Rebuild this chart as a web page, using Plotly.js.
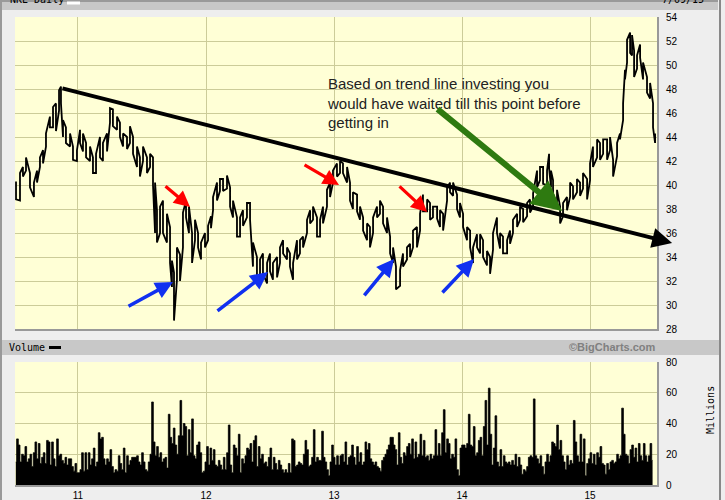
<!DOCTYPE html>
<html>
<head>
<meta charset="utf-8">
<script src="https://cdn.plot.ly/plotly-3.0.1.min.js"></script>
<style>html,body{margin:0;padding:0;background:#EEEEEE;}#chart{width:725px;height:500px;}</style>
</head>
<body>
<div id="chart"></div>
<script>
// ---- Data (time in decimal years) ----
const priceYears = [
2010.516,2010.547,2010.570,2010.594,2010.625,2010.656,2010.680,2010.703,2010.727,2010.750,
2010.781,2010.805,2010.828,2010.852,2010.867,2010.883,2010.906,2010.938,2010.961,2010.992,
2011.016,2011.039,2011.063,2011.094,2011.117,2011.141,2011.172,2011.195,2011.227,2011.250,
2011.273,2011.305,2011.328,2011.352,2011.383,2011.406,2011.430,2011.461,2011.484,2011.508,
2011.539,2011.563,2011.586,2011.602,2011.617,2011.641,2011.664,2011.695,2011.719,2011.734,
2011.750,2011.773,2011.797,2011.820,2011.844,2011.867,2011.891,2011.914,2011.938,2011.961,
2011.992,2012.016,2012.039,2012.055,2012.086,2012.109,2012.133,2012.164,2012.188,2012.211,
2012.242,2012.266,2012.289,2012.320,2012.344,2012.367,2012.398,2012.422,2012.445,2012.477,
2012.500,2012.523,2012.555,2012.578,2012.602,2012.633,2012.656,2012.680,2012.711,2012.734,
2012.758,2012.789,2012.813,2012.836,2012.867,2012.891,2012.914,2012.945,2012.969,2012.992,
2013.023,2013.047,2013.070,2013.102,2013.125,2013.148,2013.180,2013.203,2013.227,2013.258,
2013.281,2013.305,2013.336,2013.359,2013.383,2013.414,2013.438,2013.461,2013.484,2013.516,
2013.539,2013.570,2013.594,2013.617,2013.648,2013.672,2013.695,2013.727,2013.750,2013.773,
2013.805,2013.828,2013.852,2013.883,2013.906,2013.930,2013.961,2013.984,2014.008,2014.039,
2014.063,2014.086,2014.117,2014.141,2014.164,2014.195,2014.219,2014.242,2014.273,2014.297,
2014.320,2014.352,2014.375,2014.398,2014.430,2014.453,2014.477,2014.508,2014.531,2014.555,
2014.586,2014.609,2014.633,2014.664,2014.680,2014.695,2014.711,2014.742,2014.766,2014.789,
2014.820,2014.844,2014.867,2014.898,2014.922,2014.945,2014.977,2015.000,2015.023,2015.055,
2015.078,2015.102,2015.133,2015.156,2015.180,2015.211,2015.234,2015.258,2015.273,2015.289,
2015.313,2015.328,2015.344,2015.367,2015.391,2015.414,2015.445,2015.469,2015.492,2015.508];

const priceHigh = [
40.3,41.0,41.5,42.3,41.0,40.2,41.2,42.3,42.9,44.3,
45.7,46.5,46.8,47.9,48.2,45.4,44.8,44.3,43.2,42.9,
44.6,44.3,43.5,43.2,42.3,42.6,44.0,43.5,44.3,46.4,
46.3,45.7,45.2,44.3,44.0,44.9,44.0,43.2,42.3,43.2,
42.3,42.6,42.3,40.2,37.9,38.2,38.7,37.6,36.5,33.7,
32.7,34.8,34.2,37.7,38.7,38.2,36.0,37.1,36.0,35.2,
36.0,36.6,37.4,39.0,40.2,40.5,40.5,40.8,39.8,38.7,
37.3,37.3,37.9,38.5,38.5,35.2,34.0,33.8,34.3,33.5,
34.3,33.5,34.0,34.8,35.4,34.8,34.3,33.5,35.4,35.4,
35.7,37.1,37.9,38.2,37.3,37.1,38.2,39.6,40.2,41.2,
41.8,42.0,41.8,41.5,40.2,39.4,39.2,38.2,37.3,36.8,
36.5,37.3,38.2,38.7,38.2,37.3,35.7,34.8,33.2,32.9,
34.3,34.8,35.1,36.2,36.5,37.6,39.2,38.8,38.5,38.2,
38.2,37.9,37.6,39.8,40.2,40.2,39.2,38.5,37.6,36.5,
36.2,34.8,35.9,35.9,35.4,34.5,34.0,36.0,37.3,36.0,
35.7,35.4,36.2,37.1,37.6,38.2,38.0,38.5,38.8,39.3,
41.2,41.5,41.5,41.2,42.6,41.2,40.4,39.6,38.2,38.5,
39.0,40.2,39.9,40.5,40.2,41.0,40.5,41.8,43.2,43.8,
43.5,43.8,43.8,44.0,42.1,43.5,44.3,46.8,49.6,52.1,
52.7,52.5,51.2,50.8,51.7,50.2,49.0,48.5,46.8,44.3];

const priceLow = [
38.8,38.7,40.7,41.2,39.8,39.0,40.2,41.5,41.8,43.2,
44.8,44.8,44.5,46.2,46.8,44.0,43.5,43.2,42.1,42.0,
43.5,42.8,42.3,42.0,41.0,41.0,42.3,42.0,42.8,45.2,
44.9,44.6,44.0,43.2,43.0,43.5,42.6,41.5,40.7,42.0,
41.0,41.5,40.0,36.0,35.2,36.0,36.0,35.2,33.5,31.5,
28.7,32.1,32.0,34.8,37.3,36.0,33.5,35.4,34.8,33.8,
34.8,35.4,36.4,37.9,38.7,39.5,39.5,39.7,38.2,37.3,
35.7,35.7,36.6,37.3,37.1,33.2,32.1,32.6,32.6,31.8,
32.8,32.1,32.3,33.5,34.3,33.8,33.2,32.1,33.8,34.3,
34.8,36.0,36.8,37.1,35.7,35.7,36.8,38.2,39.0,40.2,
40.7,41.0,41.0,40.2,38.7,38.0,37.8,37.1,36.2,35.4,
34.8,36.0,37.3,37.6,36.8,36.0,34.3,33.5,31.3,31.6,
33.2,33.8,34.0,34.8,34.8,36.2,37.8,37.8,37.1,37.3,
37.2,36.5,36.2,38.7,39.4,39.1,38.0,37.3,36.5,35.4,
34.8,33.5,34.8,34.3,34.0,33.3,32.6,34.6,36.0,34.7,
34.3,34.3,35.1,36.0,36.5,37.1,36.9,37.4,37.7,38.2,
39.8,40.4,40.1,40.0,41.4,39.8,39.3,38.2,36.8,37.4,
37.9,39.0,38.8,39.4,39.1,39.7,38.8,40.4,41.5,42.3,
42.1,42.6,42.1,42.9,40.7,42.4,43.8,45.4,48.8,50.2,
51.0,50.8,49.0,49.7,50.6,48.8,47.7,47.2,44.8,43.5];

// Volume (millions), one value per sampling step starting at VOL_START
const VOL_START = 2010.5143;
const VOL_STEP = 0.013021;
const volume = [
15,30,26,15,20,19,25,15,17,20, 12,21,28,17,27,14,18,21,14,29,
28,13,28,17,12,30,19,20,16,14, 18,13,17,17,12,9,14,8,8,10,
21,9,21,10,21,13,17,24,12,15, 34,30,31,17,13,17,15,23,12,8,
10,9,19,14,10,24,8,19,13,16, 18,18,18,19,15,13,21,15,10,9,
15,20,54,28,19,25,18,21,15,17, 18,11,46,31,27,37,26,20,32,55,
32,40,38,19,36,21,43,19,17,26, 28,21,8,9,15,25,13,24,16,23,
13,12,16,13,10,18,10,21,39,13, 8,26,24,19,33,8,17,14,19,24,
23,27,15,29,32,12,25,17,20,14, 15,12,18,24,10,18,14,10,16,13,
10,8,10,8,14,8,30,29,12,13, 15,14,13,20,29,23,12,13,18,36,
15,18,16,16,35,18,15,10,6,15, 26,18,13,19,13,19,20,15,28,13,
18,19,26,18,13,25,15,21,13,15, 28,23,27,17,15,13,15,12,11,9,
16,18,20,23,26,31,31,26,23,13, 34,18,14,21,19,25,27,20,30,17,
28,18,20,33,19,29,18,19,16,20, 17,19,36,19,27,19,34,49,21,30,
27,17,20,18,30,10,6,24,26,26, 24,27,46,26,25,38,19,21,29,31,
19,
38,55,26,63,33,13,24,45,15,12, 23,12,19,15,14,15,13,16,13,20,
12,18,13,7,10,9,12,18,19,18, 56,19,17,14,19,12,7,15,20,15,
19,28,27,25,39,23,29,19,15,10, 19,13,16,14,42,28,19,15,33,15,
30,6,14,17,21,14,20,13,21,18, 25,14,13,7,14,10,15,16,14,15,
20,17,19,50,33,20,19,14,23,26, 18,24,15,27,19,16,27,19,15,19,
27,16];

const yearTicks = [2011, 2012, 2013, 2014, 2015];
const yearLabels = ['11', '12', '13', '14', '15'];
const priceTicks = [28,30,32,34,36,38,40,42,44,46,48,50,52,54];
const volumeTicks = [0,20,40,60,80];

// ---- Build traces ----
const zx = [], zy = [];
for (let i = 0; i < priceYears.length; i++) {
  zx.push(priceYears[i], priceYears[i]);
  if (i % 2 === 0) zy.push(priceHigh[i], priceLow[i]);
  else zy.push(priceLow[i], priceHigh[i]);
}
const volX = volume.map((v, i) => VOL_START + i * VOL_STEP);

const traces = [
  {type:'scatter', mode:'lines', x:zx, y:zy, xaxis:'x', yaxis:'y',
   line:{color:'#000', width:1.8}, hoverinfo:'skip'},
  {type:'scatter', mode:'lines', x:volX, y:volume, xaxis:'x2', yaxis:'y2',
   line:{color:'#000', width:0.8, shape:'hvh'}, fill:'tozeroy', fillcolor:'#000',
   hoverinfo:'skip'}
];

// ---- Layout helpers (page pixel -> paper) ----
const L = 15, R = 657, T = 17, B = 485;
const px = p => (p - L) / (R - L);
const py = p => (B - p) / (B - T);

const grid = '#CCCC99';
const xr = [2010.508, 2015.523];
const monoFont = {family:'DejaVu Sans Mono', size:10, color:'#000'};

function arrow(x, y, ax, ay, color, w) {
  return {x:x, y:y, ax:ax, ay:ay, xref:'x', yref:'y', axref:'x', ayref:'y',
    text:'', showarrow:true, arrowhead:2, arrowsize:1, arrowwidth:w,
    arrowcolor:color, standoff:0, startstandoff:0};
}

const layout = {
  width:725, height:500,
  margin:{l:L, r:725-R, t:T, b:500-B, pad:0},
  paper_bgcolor:'#EEEEEE', plot_bgcolor:'#FFFFD6',
  showlegend:false,
  font:{family:'Liberation Sans, Arial, sans-serif', size:10, color:'#000'},
  xaxis:{domain:[0,1], anchor:'y', range:xr, tickvals:yearTicks, showticklabels:false,
    showgrid:true, gridcolor:grid, gridwidth:1, zeroline:false, ticks:'',
    showline:true, linecolor:'#999', linewidth:2, fixedrange:true},
  yaxis:{domain:[py(329),1], anchor:'x', side:'right', range:[28,54], tickvals:priceTicks,
    showgrid:true, gridcolor:grid, gridwidth:1, zeroline:false, ticks:'',
    ticklabelstandoff:5, showline:true, linecolor:'#999', linewidth:2,
    tickfont:{family:'Liberation Sans, Arial', size:10, color:'#000'}, fixedrange:true},
  xaxis2:{domain:[0,1], anchor:'y2', range:xr, tickvals:yearTicks, ticktext:yearLabels,
    showgrid:true, gridcolor:grid, gridwidth:1, zeroline:false, ticks:'',
    showline:true, linecolor:'#999', linewidth:2,
    tickfont:{family:'Liberation Sans, Arial', size:10, color:'#000'}, fixedrange:true},
  yaxis2:{domain:[0,py(362)], anchor:'x2', side:'right', range:[0,80], tickvals:volumeTicks,
    showgrid:true, gridcolor:grid, gridwidth:1, zeroline:false, ticks:'',
    ticklabelstandoff:5, showline:true, linecolor:'#999', linewidth:2,
    tickfont:{family:'Liberation Sans, Arial', size:10, color:'#000'}, fixedrange:true},
  shapes:[
    // header bands
    {type:'rect', xref:'paper', yref:'paper', x0:px(2), x1:px(718), y0:py(10), y1:py(0),
      fillcolor:'#C8C8C8', line:{width:0}, layer:'below'},
    {type:'rect', xref:'paper', yref:'paper', x0:px(2), x1:px(719), y0:py(355), y1:py(340),
      fillcolor:'#C8C8C8', line:{width:0}, layer:'below'},
    {type:'line', xref:'paper', yref:'paper', x0:px(0), x1:px(718), y0:py(1), y1:py(1),
      line:{color:'#9A9A9A', width:2}},
    // frame borders
    {type:'line', xref:'paper', yref:'paper', x0:px(1), x1:px(1), y0:py(0), y1:py(500),
      line:{color:'#999', width:2}},
    {type:'line', xref:'paper', yref:'paper', x0:px(720), x1:px(720), y0:py(0), y1:py(500),
      line:{color:'#888', width:2}},
    // legend swatches
    {type:'line', xref:'paper', yref:'paper', x0:px(67), x1:px(80), y0:py(3), y1:py(3),
      line:{color:'#FFFFFF', width:3}},
    {type:'line', xref:'paper', yref:'paper', x0:px(49), x1:px(61), y0:py(347.5), y1:py(347.5),
      line:{color:'#000', width:3}}
  ],
  annotations:[
    {xref:'paper', yref:'paper', x:px(8), y:py(0), xanchor:'left', yanchor:'middle',
      text:'NKE Daily', showarrow:false, font:monoFont},
    {xref:'paper', yref:'paper', x:px(660), y:py(0), xanchor:'left', yanchor:'middle',
      text:'7/09/15', showarrow:false, font:monoFont},
    {xref:'paper', yref:'paper', x:px(7), y:py(347.5), xanchor:'left', yanchor:'middle',
      text:'Volume', showarrow:false, font:monoFont},
    {xref:'paper', yref:'paper', x:px(658), y:py(347.5), xanchor:'right', yanchor:'middle',
      text:'<b>©BigCharts.com</b>', showarrow:false,
      font:{family:'Liberation Sans, Arial', size:11, color:'#808080'}},
    {xref:'paper', yref:'paper', x:px(710), y:py(410), xanchor:'center', yanchor:'middle',
      text:'Millions', textangle:-90, showarrow:false, font:monoFont},
    {xref:'x', yref:'y', x:2012.930, y:49.35, xanchor:'left', yanchor:'top', align:'left',
      text:'Based on trend line investing you<br>would have waited till this point before<br>getting in',
      showarrow:false, font:{family:'Liberation Sans, Arial', size:15, color:'#222'}},
    // trend line
    arrow(2015.641, 35.17, 2010.867, 48.08, '#000', 4),
    // green arrow
    arrow(2014.781, 37.83, 2013.797, 46.42, '#2E7A10', 6),
    // red arrows
    arrow(2011.875, 38.17, 2011.672, 40.0, '#FF0000', 3.2),
    arrow(2013.039, 40.0, 2012.758, 41.75, '#FF0000', 3.2),
    arrow(2013.727, 37.75, 2013.5, 40.0, '#FF0000', 3.2),
    // blue arrows
    arrow(2011.742, 31.92, 2011.383, 29.83, '#1030F0', 3.5),
    arrow(2012.484, 32.75, 2012.078, 29.42, '#1030F0', 3.5),
    arrow(2013.469, 33.83, 2013.227, 30.67, '#1030F0', 3.5),
    arrow(2014.094, 33.83, 2013.836, 30.92, '#1030F0', 3.5)
  ]
};

Plotly.newPlot('chart', traces, layout, {staticPlot:true, displayModeBar:false});
</script>
</body>
</html>
